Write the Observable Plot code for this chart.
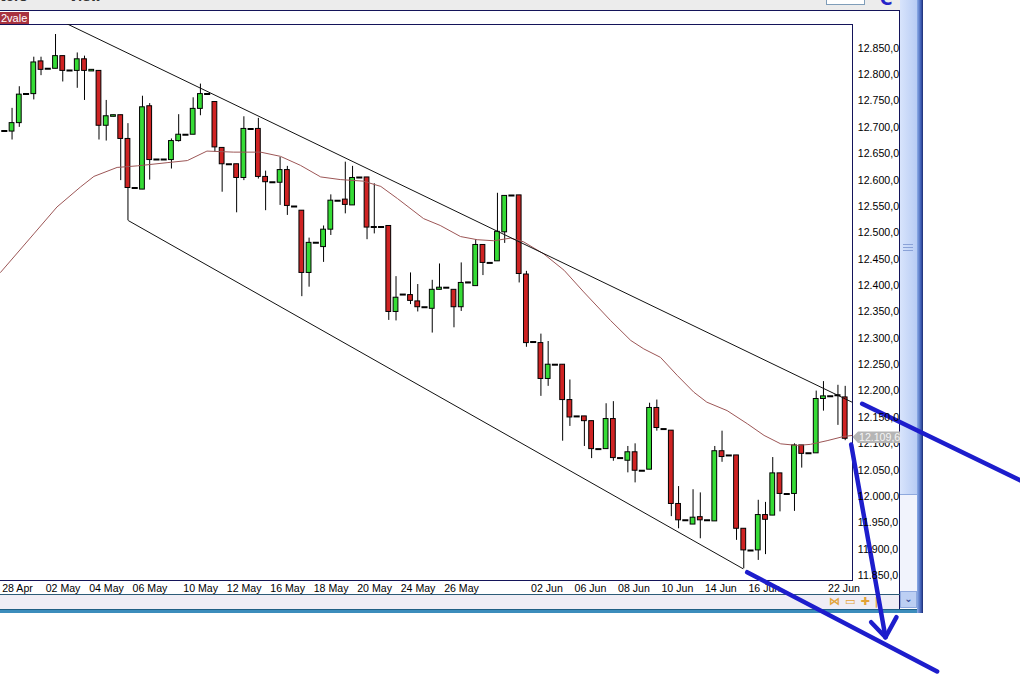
<!DOCTYPE html>
<html><head><meta charset="utf-8">
<script src="https://cdn.jsdelivr.net/npm/d3@7"></script>
<script src="https://cdn.jsdelivr.net/npm/@observablehq/plot@0.6"></script>
<style>
body{margin:0;background:#fff;font-family:'Liberation Sans',Arial,sans-serif;}
#wrap{position:relative;width:1020px;height:678px;overflow:hidden;background:#fff}
.a{position:absolute}
#plot{position:absolute;left:0;top:0}
</style></head><body>
<div id="wrap">
 <div class="a" style="left:0;top:0;width:900px;height:10px;background:#ececec"></div>
 <div class="a" style="left:0;top:-10px;font:bold 12px 'DejaVu Sans',sans-serif;color:#333">tors</div>
 <div class="a" style="left:57px;top:-10px;font:bold 12px 'DejaVu Sans',sans-serif;color:#333"><span style="color:#999">•</span> View</div>
 <div class="a" style="left:826px;top:-3px;width:37px;height:6px;border:1px solid #7f9db9;background:#fff"></div>
 <div class="a" style="left:880px;top:-11px;font:bold 17px 'DejaVu Sans',sans-serif;color:#2424c8">C</div>
 <div class="a" style="left:0;top:10px;width:900px;height:1px;background:#14145a"></div>
 <div class="a" style="left:0;top:12px;width:29px;height:12px;background:#a8323f;color:#fff;font:11px 'Liberation Sans',Arial;line-height:12px;padding-left:1px;box-sizing:border-box">2vale</div>
 <div class="a" style="left:0;top:24px;width:853px;height:1px;background:#14145a"></div>
 <div class="a" style="left:852px;top:24px;width:1px;height:557px;background:#14145a"></div>
 <div class="a" style="left:0;top:580px;width:853px;height:1px;background:#14145a"></div>
 <div class="a" style="left:899px;top:10px;width:1px;height:600px;background:#14145a"></div>
 <div class="a" style="left:0;top:594px;width:900px;height:1px;background:#2d5c78"></div>
 <div class="a" style="left:0;top:595px;width:899px;height:14px;background:#efedf5"></div>
 <div class="a" style="left:829px;top:595px;font:bold 11px 'DejaVu Sans';color:#e2a236;letter-spacing:5px;line-height:13px">⋈▭✚|</div>
 <div class="a" style="left:0;top:609px;width:923px;height:4px;background:#3c8dbc;border-top:1px solid #1f5f85;box-sizing:border-box"></div>
 <div class="a" style="left:900px;top:0;width:17px;height:495px;background:linear-gradient(to right,#d8e4fc,#b8ccf4);border-bottom:1px solid #8fa9de;box-sizing:border-box"></div>
 <div class="a" style="left:903px;top:244px;width:10px;height:7px;border-top:1px solid #8aa2d8;border-bottom:1px solid #8aa2d8;box-sizing:border-box"></div>
 <div class="a" style="left:903px;top:247px;width:10px;height:1px;background:#8aa2d8"></div>
 <div class="a" style="left:900px;top:495px;width:17px;height:96px;background:#f1f3fc"></div>
 <div class="a" style="left:900px;top:591px;width:17px;height:17px;background:#bccff3;border:1px solid #8fa9de;box-sizing:border-box;color:#3a4f9a;font:bold 10px 'DejaVu Sans';text-align:center;line-height:14px">⌄</div>
 <div class="a" style="left:917px;top:0;width:6px;height:613px;background:linear-gradient(to right,#8eaee8,#3a58b0 70%,#1c2c70)"></div>
 <div id="plot"></div>
 <svg class="a" style="left:0;top:0" width="1020" height="678">
  <polygon points="852.5,437 858,431.5 900,431.5 900,443 858,443" fill="#b5b5b5"/>
  <text x="859" y="441.2" fill="#f4f4f4" font-size="10.6" font-family="'Liberation Sans',Arial">12.109,6</text>
 </svg>
</div>
<script>
// ---- candles (index -1 .. 116) ----
const firstIndex = -1;
const opens  = [12615,12693,12692,12708,12763,12763,12825,12811,12811,12835,12808,12807,12829,12806,12807,12703,12720,12723,12678,12585,12582,12740,12639,12639,12638,12674,12686,12686,12735,12763,12748,12661,12630,12630,12604,12697,12697,12606,12596,12595,12619,12550,12542,12424,12481,12473,12506,12561,12563,12552,12605,12605,12511,12511,12513,12350,12383,12382,12370,12359,12356,12392,12396,12392,12359,12406,12399,12477,12443,12446,12501,12571,12571,12421,12293,12291,12223,12250,12250,12183,12152,12152,12143,12090,12090,12147,12073,12068,12084,12049,12051,12168,12128,12125,11986,11955,11947,11961,11955,11953,12086,12078,12078,11939,11898,11898,11965,11964,12044,12005,12005,12097,12082,12082,12185,12190,12192,12188];
const highs  = [12700,12693,12736,12777,12763,12833,12833,12811,12876,12835,12808,12841,12835,12809,12807,12751,12723,12723,12707,12585,12759,12745,12639,12639,12678,12724,12686,12756,12782,12763,12748,12661,12630,12630,12720,12697,12717,12617,12596,12643,12626,12550,12542,12490,12481,12513,12572,12561,12634,12626,12605,12605,12593,12511,12513,12417,12383,12424,12402,12359,12410,12441,12396,12392,12443,12406,12487,12477,12443,12575,12570,12571,12571,12427,12293,12308,12294,12250,12250,12221,12152,12152,12143,12090,12176,12180,12073,12095,12100,12049,12177,12183,12128,12125,12019,11955,12013,12007,11955,12095,12124,12078,12078,11939,11898,11993,11989,12074,12044,12005,12100,12097,12082,12200,12218,12190,12211,12209];
const lows   = [12610,12693,12676,12700,12763,12752,12798,12811,12811,12786,12808,12774,12751,12806,12676,12674,12720,12599,12523,12585,12582,12600,12639,12639,12621,12672,12686,12686,12722,12763,12653,12577,12630,12538,12599,12697,12602,12542,12596,12552,12533,12550,12379,12397,12481,12444,12495,12561,12536,12552,12605,12487,12498,12511,12334,12333,12383,12364,12350,12359,12310,12392,12396,12320,12351,12404,12399,12419,12443,12446,12480,12571,12405,12283,12293,12190,12209,12250,12105,12133,12152,12095,12072,12090,12090,12067,12073,12045,12026,12049,12051,12124,12128,11962,11939,11955,11947,11920,11955,11953,12065,12078,11917,11863,11898,11879,11890,11964,11971,12005,11972,12054,12082,12082,12162,12190,12135,12106];
const closes = [12693,12693,12708,12762,12763,12823,12809,12811,12835,12807,12808,12829,12807,12809,12703,12721,12723,12678,12585,12585,12738,12638,12639,12639,12674,12686,12686,12735,12763,12763,12662,12630,12630,12604,12697,12697,12606,12596,12596,12619,12551,12550,12424,12481,12481,12506,12561,12561,12553,12604,12605,12510,12511,12511,12350,12377,12383,12371,12359,12359,12392,12396,12396,12359,12405,12404,12477,12443,12443,12502,12570,12571,12422,12291,12293,12223,12250,12250,12183,12150,12152,12143,12090,12090,12147,12073,12073,12084,12049,12049,12168,12130,12128,11986,11955,11955,11960,11955,11955,12086,12075,12078,11939,11898,11898,11965,11956,12044,12005,12005,12097,12081,12082,12185,12190,12190,12192,12109.6];

// ---- 20-period moving average line ----
const maIndex = [-0.59,4.0,7.2,10.45,12.3,15.5,18.3,22.4,25.2,27.9,31.6,35.3,38.05,40.8,43.6,46.3,49.5,51.9,54.2,57.8,60.1,62.9,65.2,67.5,69.8,71.6,74.4,77.2,79.9,83.6,86.4,88.2,90.5,92.8,95.1,96.9,99.7,102.5,104.8,107.1,109.4,111.2,113.5,115.8,117.05];
const maValue = [12425,12498,12549,12587,12607,12624,12627,12633,12637,12655,12653,12653,12645,12628,12606,12601,12598,12588,12565,12527,12514,12493,12487,12485,12490,12483,12460,12429,12388,12334,12296,12280,12264,12230,12198,12179,12163,12138,12116,12100,12097,12099,12106,12114,12116];

// ---- trend channel lines (index, price) ----
const channelX1 = [7, 17.03];
const channelY1 = [12906.7, 12523.4];
const channelX2 = [117.05, 101.92];
const channelY2 = [12178.3, 11863.1];

// ---- hand-drawn blue annotation strokes (index, price) ----
const annX1 = [118.34, 116.83, 119.58, 123.08, 102.47];
const annY1 = [12175.9, 12098.7, 11761.9, 11771.4, 11856.7];
const annX2 = [141.57, 121.56, 121.56, 121.56, 128.69];
const annY2 = [12021.4, 11733.4, 11733.4, 11733.4, 11668.4];

// ---- axis ticks ----
const yTicks = [11850,11900,11950,12000,12050,12100,12150,12200,12250,12300,12350,12400,12450,12500,12550,12600,12650,12700,12750,12800,12850];
const xLabelIndex = [0,6,12,18,25,31,37,43,49,55,61,73,79,85,91,97,103,114];
const xLabels = ["28 Apr","02 May","04 May","06 May","10 May","12 May","16 May","18 May","20 May","24 May","26 May","02 Jun","06 Jun","08 Jun","10 Jun","14 Jun","16 Jun","22 Jun"];

const candles = opens.map((o, k) => ({i: k + firstIndex, o, h: highs[k], l: lows[k], c: closes[k]}));
const ups = candles.filter(d => d.c > d.o);
const downs = candles.filter(d => d.c < d.o);
const flats = candles.filter(d => d.c === d.o);
const wicks = candles.filter(d => d.h > d.l);
const ma = maIndex.map((i, k) => ({i, v: maValue[k]}));
const channels = channelX1.map((x, k) => ({x1: x, y1: channelY1[k], x2: channelX2[k], y2: channelY2[k]}));
const ann = annX1.map((x, k) => ({x1: x, y1: annY1[k], x2: annX2[k], y2: annY2[k]}));

const fmtY = v => (v / 1000).toFixed(3) + ",0";
const GREEN = "#36dc36", RED = "#cf2323", BLUE = "#1d1dcc";
const hw = 0.33;
const hasAxis = typeof Plot.axisY === "function";

const marks = [
  Plot.ruleX(wicks, {x: "i", y1: "l", y2: "h", stroke: "#000", strokeWidth: 1, clip: true}),
  Plot.rect(ups, {x1: d => d.i - hw, x2: d => d.i + hw, y1: "o", y2: "c", fill: GREEN, stroke: "#000", strokeWidth: 1, clip: true}),
  Plot.rect(downs, {x1: d => d.i - hw, x2: d => d.i + hw, y1: "o", y2: "c", fill: RED, stroke: "#000", strokeWidth: 1, clip: true}),
  Plot.ruleY(flats, {y: "o", x1: d => d.i - 0.42, x2: d => d.i + 0.42, stroke: "#000", strokeWidth: 2, clip: true}),
  Plot.line(ma, {x: "i", y: "v", stroke: "#9c5656", strokeWidth: 1, clip: true}),
  Plot.link(channels, {x1: "x1", y1: "y1", x2: "x2", y2: "y2", stroke: "#111", strokeWidth: 1, clip: true}),
  Plot.text(xLabelIndex, {x: d => d, text: (d, k) => xLabels[k], frameAnchor: "bottom", textAnchor: "start", lineAnchor: "middle", dx: -2.6, dy: 7, fill: "#000", ariaLabel: "xlabels"}),
  Plot.link(ann, {x1: "x1", y1: "y1", x2: "x2", y2: "y2", stroke: BLUE, strokeWidth: 4.5, strokeLinecap: "round"})
];
if (hasAxis) marks.push(Plot.axisY({anchor: "right", ticks: yTicks, tickFormat: fmtY, tickSize: 0, tickPadding: 5, fill: "#000"}));

const chart = Plot.plot({
  width: 1020, height: 678,
  marginLeft: 0, marginRight: 167.7, marginTop: 24.3, marginBottom: 97.3,
  x: {domain: [-0.594, 117.05], axis: null},
  y: hasAxis ? {domain: [11839.6, 12894.4], axis: null}
             : {domain: [11839.6, 12894.4], axis: "right", ticks: yTicks, tickFormat: fmtY, tickSize: 0, tickPadding: 5},
  style: {background: "transparent", color: "#000", fontFamily: "'Liberation Sans', Arial, sans-serif", fontSize: "10.6px", overflow: "hidden"},
  marks
});
document.getElementById("plot").appendChild(chart);

// clip the date labels at the plot's right border, like the original
const ns = "http://www.w3.org/2000/svg";
const defs = document.createElementNS(ns, "defs");
const cp = document.createElementNS(ns, "clipPath");
cp.setAttribute("id", "xlabclip");
const r = document.createElementNS(ns, "rect");
r.setAttribute("x", 0); r.setAttribute("y", 0); r.setAttribute("width", 852.3); r.setAttribute("height", 678);
cp.appendChild(r); defs.appendChild(cp); chart.insertBefore(defs, chart.firstChild);
const g = chart.querySelector('g[aria-label="xlabels"]');
if (g) g.setAttribute("clip-path", "url(#xlabclip)");
</script>
</body></html>
